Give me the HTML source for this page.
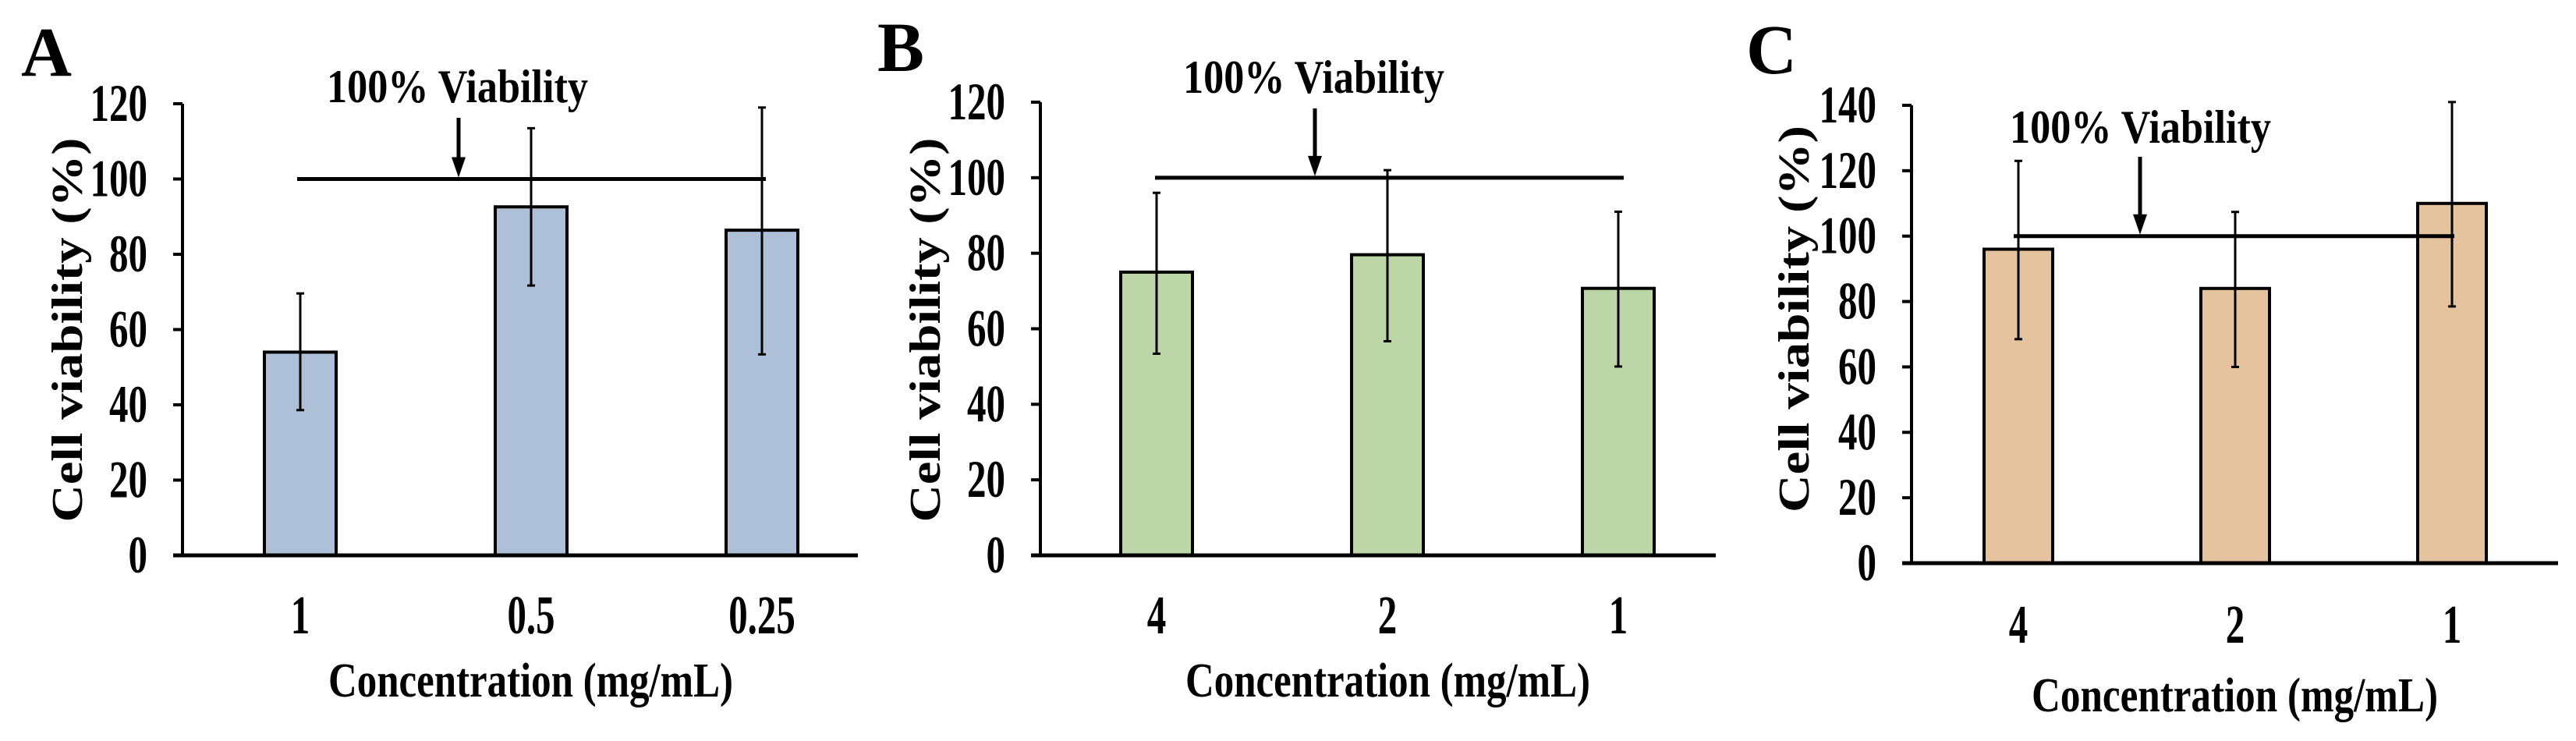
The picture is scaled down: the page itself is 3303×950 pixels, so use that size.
<!DOCTYPE html>
<html><head><meta charset="utf-8"><style>
html,body{margin:0;padding:0;background:#fff;}
svg{display:block;font-family:"Liberation Serif",serif;font-weight:bold;}
</style></head><body>
<svg id="fig" width="3303" height="950" viewBox="0 0 3303 950" xmlns="http://www.w3.org/2000/svg"></svg>
<script>
const categoriesA = ["1","0.5","0.25"];
const valuesA = [54, 92.6, 86.4];
const errHiA = [69.6, 113.5, 119];
const errLoA = [38.6, 71.7, 53.4];
const ticksA = [0,20,40,60,80,100,120];

const categoriesB = ["4","2","1"];
const valuesB = [75, 79.6, 70.7];
const errHiB = [96, 102, 91];
const errLoB = [53.4, 56.7, 50];
const ticksB = [0,20,40,60,80,100,120];

const categoriesC = ["4","2","1"];
const valuesC = [96, 84, 110];
const errHiC = [123, 107.4, 141];
const errLoC = [68.5, 60, 78.5];
const ticksC = [0,20,40,60,80,100,120,140];

const reference = 100;

const NS = "http://www.w3.org/2000/svg";
const svg = document.getElementById('fig');
function mk(tag, attrs, parent, text){
  const e = document.createElementNS(NS, tag);
  for (const k in attrs) e.setAttribute(k, attrs[k]);
  if (text !== undefined) e.textContent = text;
  (parent||svg).appendChild(e);
  return e;
}
function charW(s){ let w=0; for (const ch of s) w += (ch==='.') ? 12 : 24.5; return w; }

const panels = [
  {id:'a', letter:'A', cats:categoriesA, vals:valuesA, hi:errHiA, lo:errLoA, ticks:ticksA, fill:'#aebfd8',
   ax:234, y0:712, yTop:133, xEnd:1100, c0:385, step:296, bw:92, refX0:381, refX1:982, arrowX:588, arrowTop:151,
   vtX:419, vtY:131, letX:27, letY:97, ytX:105, ytY:423, ytLen:493, xtY:812, xtitleX:421, xtitleY:893, xtitleW:519},
  {id:'b', letter:'B', cats:categoriesB, vals:valuesB, hi:errHiB, lo:errLoB, ticks:ticksB, fill:'#bcd6a8',
   ax:1334, y0:712, yTop:131, xEnd:2200, c0:1483, step:296, bw:92, refX0:1481, refX1:2082, arrowX:1686, arrowTop:139,
   vtX:1517, vtY:119, letX:1125, letY:91, ytX:1205, ytY:423, ytLen:493, xtY:812, xtitleX:1520, xtitleY:893, xtitleW:519},
  {id:'c', letter:'C', cats:categoriesC, vals:valuesC, hi:errHiC, lo:errLoC, ticks:ticksC, fill:'#e4c39e',
   ax:2451, y0:722, yTop:135, xEnd:3280, c0:2588, step:278, bw:88, refX0:2582, refX1:3147, arrowX:2744, arrowTop:201,
   vtX:2577, vtY:183, letX:2239, letY:94, ytX:2319, ytY:409, ytLen:496, xtY:824, xtitleX:2605, xtitleY:912, xtitleW:521}
];

panels.forEach(p => {
  const g = mk('g', {});
  
  
  const maxT = p.ticks[p.ticks.length-1];
  const yS = v => p.y0 - (p.y0 - p.yTop) * v / maxT;
  const xS = i => p.c0 + i * p.step;

  const let_ = mk('text', {x:p.letX, y:p.letY, 'font-size':90}, g, p.letter);
  
  

  p.vals.forEach((v, i) => {
    const r = mk('rect', {x:xS(i)-p.bw/2, y:yS(v), width:p.bw, height:p.y0-yS(v), fill:p.fill, stroke:'#000', 'stroke-width':4}, g);
    
    
  });
  p.vals.forEach((v, i) => {
    const eg = mk('g', {stroke:'#000', 'stroke-width':3}, g);
    
    
    const x = xS(i);
    mk('line', {x1:x, x2:x, y1:yS(p.hi[i]), y2:yS(p.lo[i])}, eg);
    mk('line', {x1:x-5, x2:x+5, y1:yS(p.hi[i]), y2:yS(p.hi[i])}, eg);
    mk('line', {x1:x-5, x2:x+5, y1:yS(p.lo[i]), y2:yS(p.lo[i])}, eg);
  });

  const ya = mk('line', {x1:p.ax, x2:p.ax, y1:p.yTop, y2:p.y0, stroke:'#000', 'stroke-width':4}, g);
  
  
  const xa = mk('line', {x1:p.ax-12, x2:p.xEnd, y1:p.y0, y2:p.y0, stroke:'#000', 'stroke-width':5}, g);
  
  

  p.ticks.forEach(t => {
    mk('line', {x1:p.ax-12, x2:p.ax, y1:yS(t), y2:yS(t), stroke:'#000', 'stroke-width':4}, g);
    const s = String(t);
    const tl = mk('text', {x:p.ax-45, y:yS(t)+22, 'font-size':68, 'text-anchor':'end', textLength:charW(s), lengthAdjust:'spacingAndGlyphs'}, g, s);
    
    
  });
  p.cats.forEach((c, i) => {
    const tl = mk('text', {x:xS(i), y:p.xtY, 'font-size':70, 'text-anchor':'middle', textLength:charW(c), lengthAdjust:'spacingAndGlyphs'}, g, c);
    
    
  });

  const rl = mk('line', {x1:p.refX0, x2:p.refX1, y1:yS(reference), y2:yS(reference), stroke:'#000', 'stroke-width':5}, g);
  
  
  const ag = mk('g', {}, g);
  
  
  const tipY = yS(reference) - 2;
  mk('line', {x1:p.arrowX, x2:p.arrowX, y1:p.arrowTop, y2:tipY-20, stroke:'#000', 'stroke-width':5}, ag);
  mk('polygon', {points:`${p.arrowX-9},${tipY-26} ${p.arrowX+9},${tipY-26} ${p.arrowX},${tipY}`, fill:'#000'}, ag);
  const vt = mk('text', {x:p.vtX, y:p.vtY, 'font-size':60, textLength:335, lengthAdjust:'spacingAndGlyphs'}, g, '100% Viability');
  
  

  const yt = mk('text', {x:0, y:0, 'font-size':56, 'text-anchor':'middle', textLength:p.ytLen, lengthAdjust:'spacingAndGlyphs',
    transform:`translate(${p.ytX},${p.ytY}) rotate(-90)`}, g, 'Cell viability (%)');
  
  

  const xt = mk('text', {x:p.xtitleX, y:p.xtitleY, 'font-size':62, textLength:p.xtitleW, lengthAdjust:'spacingAndGlyphs'}, g, 'Concentration (mg/mL)');
  
  
});
</script>
</body></html>
